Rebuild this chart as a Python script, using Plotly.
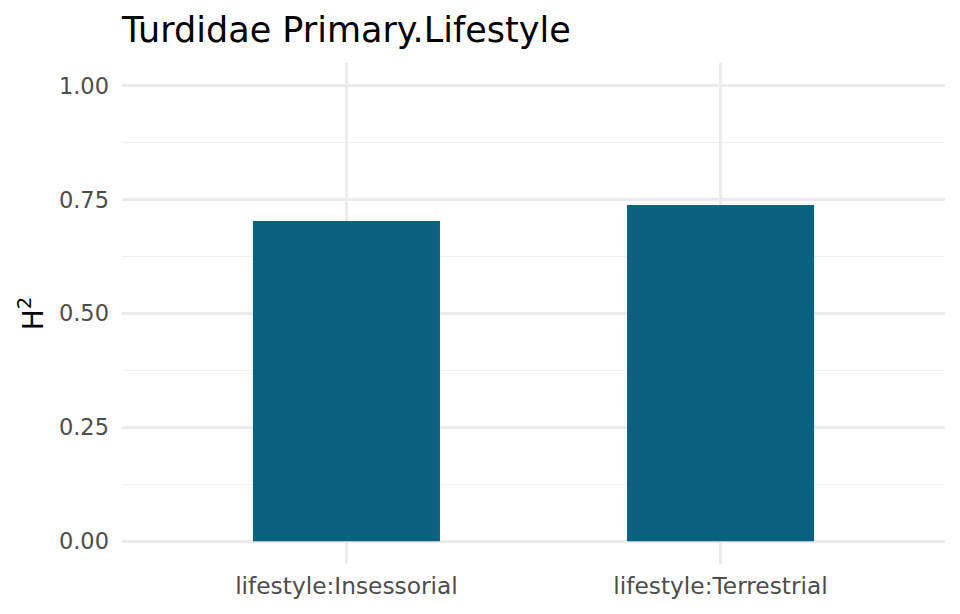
import plotly.graph_objects as go

# heritability per lifestyle category
categories = ['lifestyle:Insessorial', 'lifestyle:Terrestrial']
h2_values = [0.703, 0.738]
y_ticks = [0.0, 0.25, 0.5, 0.75, 1.0]
y_tick_labels = ['0.00', '0.25', '0.50', '0.75', '1.00']
y_minor = [0.125, 0.375, 0.625, 0.875]

fig = go.Figure()
fig.add_trace(go.Bar(x=categories, y=h2_values, width=0.5,
                     marker=dict(color='#0b6280', line=dict(width=0))))

fig.update_layout(
    width=960, height=614,
    plot_bgcolor='white', paper_bgcolor='white',
    font=dict(family='DejaVu Sans', size=22, color='#4d4d4d'),
    margin=dict(l=122, r=15, t=63, b=50),
    showlegend=False,
    title=dict(text='Turdidae Primary.Lifestyle', x=122/960, xanchor='left',
               y=1 - 30/614, yanchor='middle',
               font=dict(family='DejaVu Sans', size=35, color='black')),
)
fig.update_xaxes(range=[-0.6, 1.6], showgrid=True, gridcolor='#ebebeb', gridwidth=2.5,
                 zeroline=False, showline=False, ticks='', ticklabelstandoff=6,
                 tickfont=dict(size=23.3, color='#4d4d4d'))
fig.update_yaxes(range=[-0.05, 1.05], tickvals=y_ticks, ticktext=y_tick_labels,
                 showgrid=True, gridcolor='#ebebeb', gridwidth=2.5,
                 minor=dict(tickvals=y_minor, showgrid=True,
                            gridcolor='#f0f0f0', gridwidth=1.3),
                 zeroline=False, showline=False, ticks='', ticklabelstandoff=12,
                 tickfont=dict(size=22.5, color='#4d4d4d'),
                 title=dict(text='H<sup>2</sup>', standoff=7,
                            font=dict(size=28, color='black')))

fig.write_html('out.html', config={'displayModeBar': False},
               post_script="document.body.style.margin='0';")
